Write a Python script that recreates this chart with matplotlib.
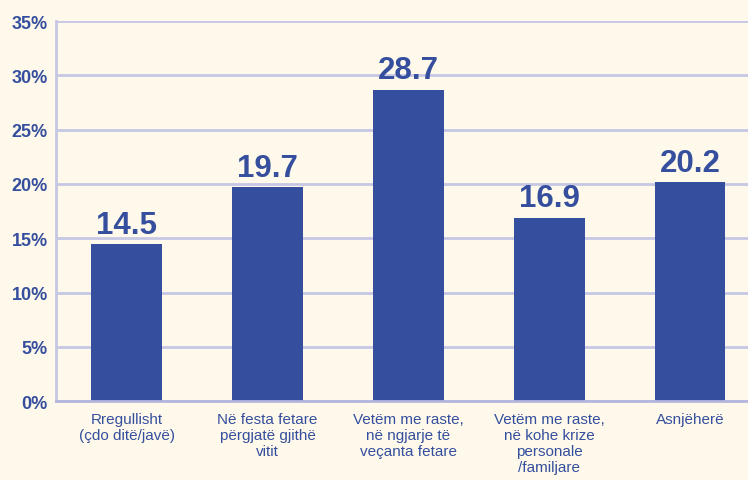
import matplotlib.pyplot as plt

categories = [
    "Rregullisht\n(çdo ditë/javë)",
    "Në festa fetare\npërgjatë gjithë\nvitit",
    "Vetëm me raste,\nnë ngjarje të\nveçanta fetare",
    "Vetëm me raste,\nnë kohe krize\npersonale\n/familjare",
    "Asnjëherë",
]
values = [14.5, 19.7, 28.7, 16.9, 20.2]
yticks = [0, 5, 10, 15, 20, 25, 30, 35]

bg = "#FEF9EA"
blue = "#354F9E"
grid = "#C6C7E5"

fig = plt.figure(figsize=(7.48, 4.81), dpi=100, facecolor=bg)
ax = fig.add_axes([0.075, 0.164, 0.925, 0.79])
ax.set_facecolor(bg)

x = list(range(len(values)))
bars = ax.bar(x, values, width=0.5, color=blue, zorder=3)
for b, v in zip(bars, values):
    ax.annotate(f"{v:.1f}", (b.get_x() + b.get_width() / 2, v),
                xytext=(0, 3), textcoords="offset points",
                ha="center", va="bottom", color=blue,
                fontsize=22.5, fontweight="bold", family="Liberation Sans")

ax.set_xlim(-0.5, 4.41)
ax.set_ylim(0, 35)
ax.set_yticks(yticks)
ax.set_yticklabels([f"{t}%" for t in yticks], color=blue, fontsize=13,
                   fontweight="bold", family="Liberation Sans")
ax.set_xticks(x)
ax.set_xticklabels(categories, color=blue, fontsize=11,
                   family="Liberation Sans", linespacing=1.18, va="top")
ax.tick_params(axis="both", length=0)
ax.tick_params(axis="y", pad=6)
ax.tick_params(axis="x", pad=8)

ax.grid(axis="y", color=grid, linewidth=2, zorder=0)
for s in ["top", "right"]:
    ax.spines[s].set_visible(False)
ax.spines["left"].set_color(grid)
ax.spines["left"].set_linewidth(2)
ax.spines["bottom"].set_color("#B4B6DD")
ax.spines["bottom"].set_linewidth(2)
ax.spines["bottom"].set_zorder(4)

fig.savefig("out.png", dpi=100, facecolor=bg)
